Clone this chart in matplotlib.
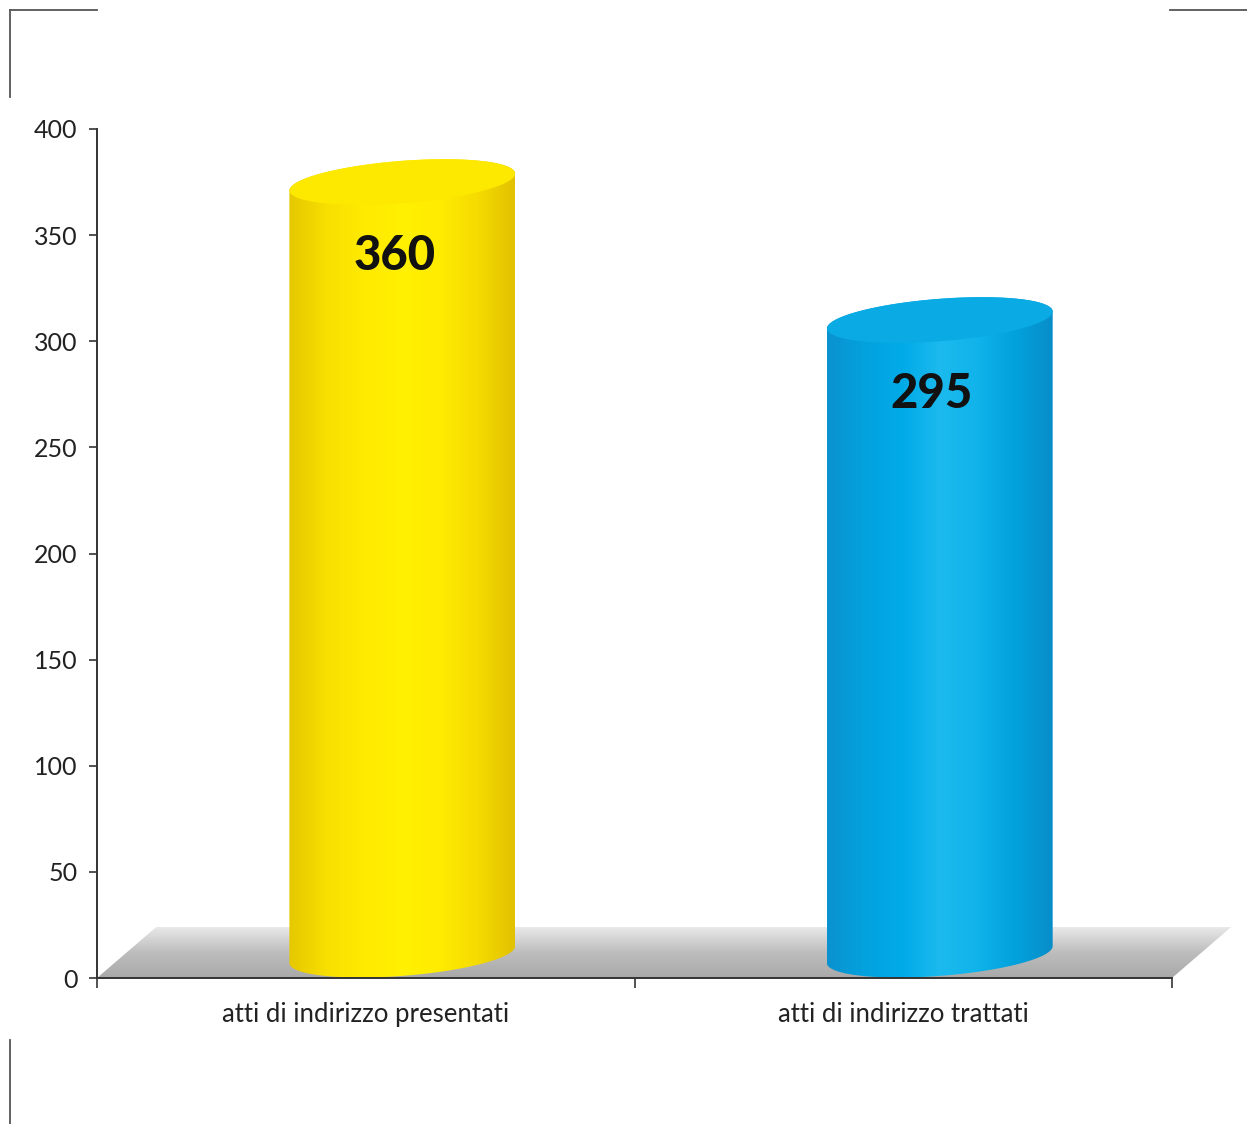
import numpy as np
import matplotlib
matplotlib.use("Agg")
import matplotlib.pyplot as plt
from matplotlib.colors import LinearSegmentedColormap
from matplotlib.patches import Polygon

# data
categories = ["atti di indirizzo presentati", "atti di indirizzo trattati"]
values = [360, 295]

# styles
body_colors = [
    ["#e6c800", "#f8e000", "#ffea00", "#fff000", "#ffec00", "#f6dc00", "#e2c200"],
    ["#0a92cf", "#03a2de", "#00abe8", "#1cbaee", "#10b3ea", "#02a2dc", "#088ec9"],
]
top_colors = ["#fde800", "#0aaae4"]

plt.rcParams["font.family"] = ["Lato", "DejaVu Sans"]

fig = plt.figure(figsize=(12.47, 11.24), dpi=100)
ax = fig.add_axes([97 / 1247, 146 / 1124, 1075 / 1247, 849 / 1124])
ax.set_facecolor("none")

XMAX, YMAX = 2, 400
depth_x, depth_y = 0.11, 24     # floor depth
half_w = 0.21                    # cylinder half width
b, k = 10, 4                     # ellipse semi-minor and shear (data units)

# floor with gradient
floor = Polygon([(0, 0), (XMAX, 0), (XMAX + depth_x, depth_y), (depth_x, depth_y)],
                closed=True, facecolor="none", edgecolor="none", clip_on=False)
ax.add_patch(floor)
grad = np.linspace(0, 1, 100).reshape(-1, 1)
floor_cmap = LinearSegmentedColormap.from_list("floor", ["#a9a9a9", "#bdbdbd", "#e8e8e8"])
im = ax.imshow(grad, cmap=floor_cmap, aspect="auto", origin="lower",
               extent=[0, XMAX + depth_x, 0, depth_y], zorder=1)
im.set_clip_box(fig.bbox)
im.set_clip_path(floor)

theta = np.linspace(0, 2 * np.pi, 200)
for i, (v, cat) in enumerate(zip(values, categories)):
    cx = i + 0.5 + 0.068
    y_bot = 11
    y_top = v + 15
    # body outline
    t_low = np.linspace(np.pi, 2 * np.pi, 100)
    t_up = np.linspace(0, np.pi, 100)
    low = np.column_stack([cx + half_w * np.cos(t_low),
                           y_bot + b * np.sin(t_low) + k * np.cos(t_low)])
    up = np.column_stack([cx + half_w * np.cos(t_up),
                          y_top + b * np.sin(t_up) + k * np.cos(t_up)])
    body = Polygon(np.vstack([low, up]), closed=True, facecolor="none",
                   edgecolor="none", zorder=2)
    ax.add_patch(body)
    cmap = LinearSegmentedColormap.from_list("c%d" % i, body_colors[i])
    hgrad = np.linspace(0, 1, 200).reshape(1, -1)
    bim = ax.imshow(hgrad, cmap=cmap, aspect="auto", origin="lower",
                    extent=[cx - half_w, cx + half_w, 0, y_top + 20], zorder=2)
    bim.set_clip_path(body)
    # top face
    top = np.column_stack([cx + half_w * np.cos(theta),
                           y_top + b * np.sin(theta) + k * np.cos(theta)])
    ax.add_patch(Polygon(top, closed=True, facecolor=top_colors[i],
                         edgecolor="none", zorder=3))
    ax.text(cx - 0.015, v - 20, str(v), ha="center", va="center",
            fontsize=34, fontweight="black", color="#111111", zorder=4)

ax.set_xlim(0, XMAX)
ax.set_ylim(0, YMAX)

ax.spines["top"].set_visible(False)
ax.spines["right"].set_visible(False)
for s in ["left", "bottom"]:
    ax.spines[s].set_color("#333333")
    ax.spines[s].set_linewidth(1.4)
    ax.spines[s].set_zorder(5)

ax.set_yticks(range(0, 401, 50))
ax.tick_params(axis="y", direction="out", length=6, width=1.2, color="#333333",
               labelsize=18, labelcolor="#222222", pad=8)
ax.set_xticks([0, 1, 2])
ax.set_xticklabels([])
ax.set_xticks([0.5, 1.5], minor=True)
ax.set_xticklabels(categories, minor=True)
ax.tick_params(axis="x", which="major", direction="out", length=7, width=1.2,
               color="#333333")
ax.tick_params(axis="x", which="minor", length=0, labelsize=18.5,
               labelcolor="#222222", pad=17)

# corner marks
def fig_line(x0, y0, x1, y1):
    fig.add_artist(plt.Line2D([x0 / 1247, x1 / 1247], [1 - y0 / 1124, 1 - y1 / 1124],
                              color="#555555", linewidth=1.3))

fig_line(10, 10, 97, 10)
fig_line(10, 10, 10, 97)
fig_line(1170, 10, 1247, 10)
fig_line(10, 1040, 10, 1124)

fig.savefig("out.png", dpi=100, facecolor="white")
